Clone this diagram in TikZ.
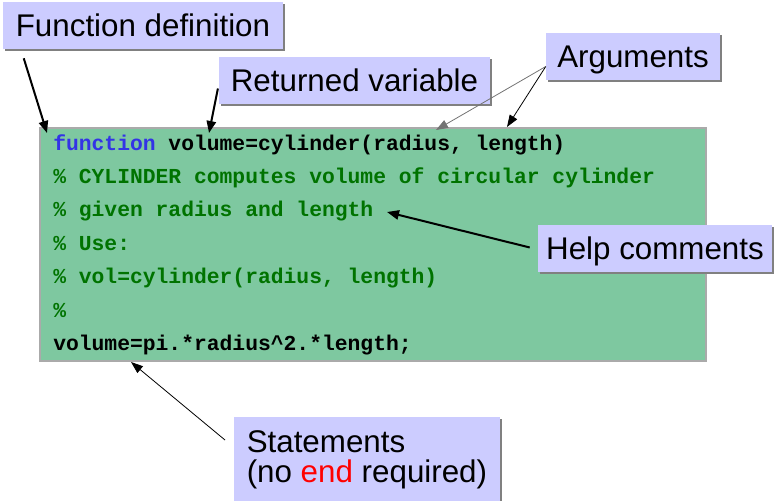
\documentclass[tikz,border=0pt]{standalone}
\usepackage{fontspec}
\setmainfont{Liberation Sans}
\newfontfamily\codefont{Liberation Mono}
\usetikzlibrary{arrows.meta,shadows,calc}

\definecolor{lavender}{RGB}{204,204,255}
\definecolor{codegreen}{RGB}{126,200,160}
\definecolor{codeframe}{RGB}{170,170,170}
\definecolor{keyblue}{RGB}{51,51,230}
\definecolor{commgreen}{RGB}{0,115,0}
\definecolor{tagshadow}{RGB}{128,128,128}

\begin{document}
\begin{tikzpicture}[x=0.75pt,y=0.75pt,yscale=-1,xscale=1,
  tagbox/.style={fill=lavender, inner sep=0pt,
    font=\fontsize{23.5}{22.5}\selectfont,
    drop shadow={shadow xshift=1.5pt, shadow yshift=-1.5pt, fill=tagshadow, opacity=1}},
  tag/.style={tagbox, text height=16.8pt, text depth=0pt, minimum height=35.25pt},
  codeline/.style={anchor=base west, inner sep=0pt, font=\codefont\bfseries\fontsize{16}{16}\selectfont},
  pointer/.style={-{Triangle[length=9pt,width=7pt]}, line width=1.5pt},
  thinpointer/.style={-{Triangle[length=9pt,width=6.5pt]}, line width=0.6pt}]
\useasboundingbox (0,0) rectangle (774,500);

% Code box
\node (code) [draw=codeframe, line width=1.5pt, fill=codegreen, minimum width=499.5pt, minimum height=174.75pt] at (373,244.5) {};

% Code lines
\node (l1) [codeline] at (53,150) {{\color{keyblue}function} volume=cylinder(radius, length)};
\node (l2) [codeline, commgreen] at (53,183.4) {\% CYLINDER computes volume of circular cylinder};
\node (l3) [codeline, commgreen] at (53,216.8) {\% given radius and length};
\node (l4) [codeline, commgreen] at (53,250.2) {\% Use:};
\node (l5) [codeline, commgreen] at (53,283.6) {\% vol=cylinder(radius, length)};
\node (l6) [codeline, commgreen] at (53,317) {\%};
\node (l7) [codeline] at (53,350.4) {volume=pi.*radius\textasciicircum 2.*length;};

% Text Node
\node (fundef) [tag, minimum width=210pt] at (143,25.5) {Function definition};
% Text Node
\node (retvar) [tag, minimum width=203pt] at (354.5,80.5) {Returned variable};
% Text Node
\node (args) [tag, minimum width=130.5pt] at (633,56.5) {Arguments};
% Text Node
\node (helpc) [tag, minimum width=175.5pt] at (655,248.5) {Help comments};
% Text Node
\node (stmts) [tagbox, anchor=north west, align=left, inner xsep=8pt, inner ysep=9.75pt, minimum width=199pt] at (234,417) {Statements\\(no \textcolor{red}{end} required)};

% Pointed places
\coordinate (funpt) at (47,133);
\coordinate (retpt) at (209,133);
\coordinate (radpt) at (436,130);
\coordinate (lenpt) at (507,127);
\coordinate (helppt) at (387,212);
\coordinate (stmtpt) at (131,362);

%Straight Lines
\draw [pointer] ($(fundef.south west)+(21,9)$) -- (funpt);
\draw [pointer] ($(retvar.west)+(-1,8)$) -- (retpt);
\draw [thinpointer, draw=black!55] ($(args.west)+(0,10)$) -- (radpt);
\draw [thinpointer] ($(args.west)+(0,10)$) -- (lenpt);
\draw [pointer] ($(helpc.west)+(-8,-1)$) -- (helppt);
\draw [thinpointer] ($(stmts.north west)+(-9,23)$) -- (stmtpt);

\end{tikzpicture}
\end{document}
